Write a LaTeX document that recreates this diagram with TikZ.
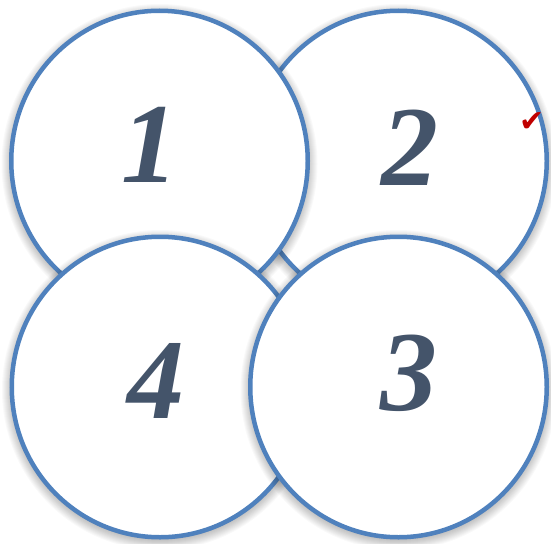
\documentclass[tikz,border=0pt]{standalone}
\usepackage{fontspec}
\usetikzlibrary{shapes.geometric}
\setmainfont{Liberation Serif}
\newfontfamily\symfont{DejaVu Sans}
\definecolor{ringblue}{HTML}{4F81BD}
\definecolor{numcol}{HTML}{44546A}
\definecolor{tickred}{HTML}{C00000}
\newcommand\ringshadow[1]{\foreach \k in {1,...,12}{\fill[black,opacity=0.022] ([yshift=-3pt]#1) ellipse ({146+\k} and {148+\k});}}
\begin{document}
\begin{tikzpicture}[x=1pt,y=-1pt,
  ring/.style={ellipse, draw=ringblue, line width=4.5pt, fill=white, minimum width=296.5pt, minimum height=300.5pt, inner sep=0pt},
  num/.style={font=\fontsize{114}{114}\selectfont\bfseries\itshape, text=numcol, inner sep=0pt}]
\useasboundingbox (0,0) rectangle (551,543);
\fill[white] (0,0) rectangle (551,543);
\coordinate (p2) at (398.5,161);
\coordinate (p1) at (159.5,161);
\coordinate (p4) at (160,387);
\coordinate (p3) at (398.5,387);
\ringshadow{p2}
\node[ring] (c2) at (p2) {};
\ringshadow{p1}
\node[ring] (c1) at (p1) {};
\ringshadow{p4}
\node[ring] (c4) at (p4) {};
\ringshadow{p3}
\node[ring] (c3) at (p3) {};
\node[num] (n1) at (150,145) {1};
\node[num] (n2) at (410,148) {2};
\node[num] (n4) at (156,381) {4};
\node[num] (n3) at (409,373) {3};
\node[font=\symfont\fontsize{30}{30}\selectfont, text=tickred, inner sep=0pt] (tick) at (532,122) {✔};
\end{tikzpicture}
\end{document}
